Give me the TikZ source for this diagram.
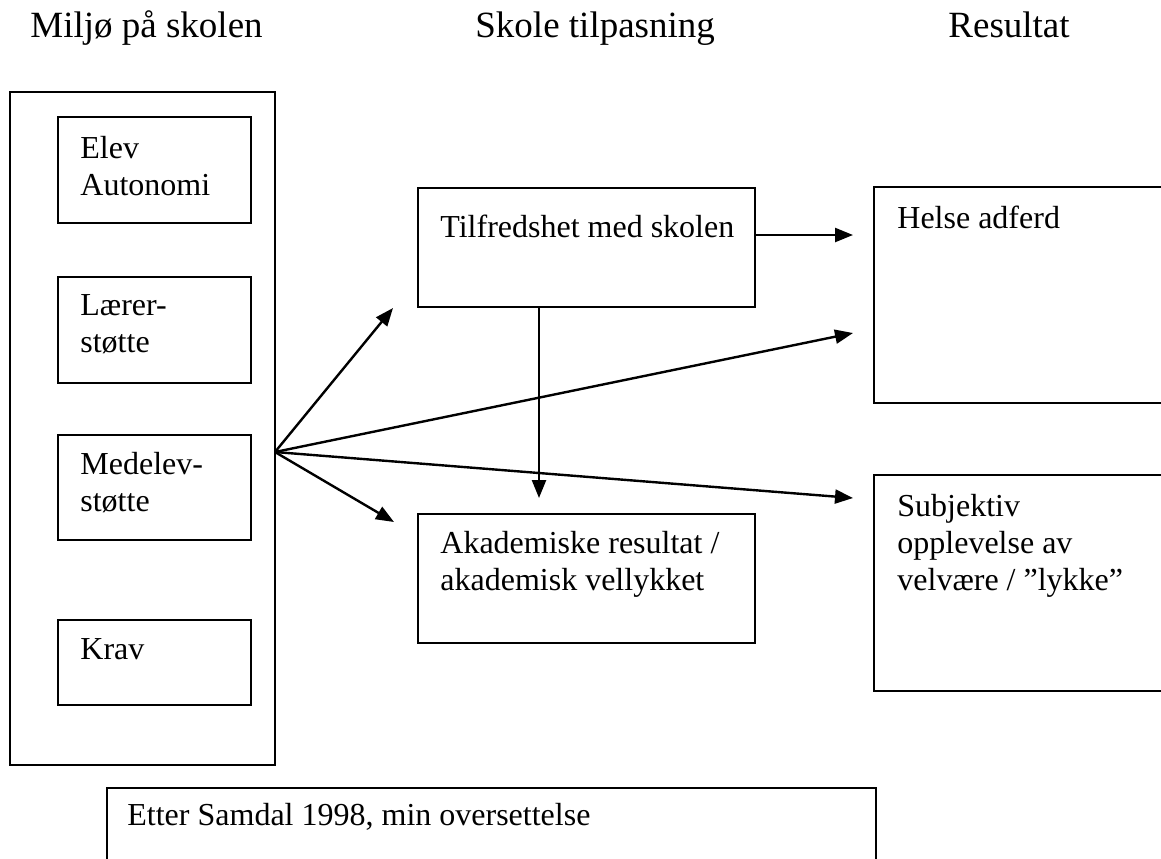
\documentclass[tikz,border=0pt]{standalone}
\usepackage{fontspec}
\setmainfont{Liberation Serif}
\usetikzlibrary{arrows.meta,fit}
\newcommand\mlines[1]{\begin{tabular}[t]{@{}l@{}}#1\end{tabular}}
\begin{document}
\begin{tikzpicture}[x=0.5pt,y=-0.5pt,
  box/.style={draw,line width=1pt,inner sep=0pt},
  txt/.style={anchor=base west,inner sep=0pt,font=\fontsize{16}{18.5}\selectfont},
  head/.style={anchor=base west,inner sep=0pt,font=\fontsize{18.5}{21}\selectfont},
  arr/.style={line width=1.2pt,-{Triangle[length=9pt,width=7pt]}}]
\useasboundingbox (0,0) rectangle (1161,858);
\clip (0,0) rectangle (1161,858);
\fill[white] (0,0) rectangle (1161,858);
% headers
\node[head] (h1) at (30,37) {Miljø på skolen};
\node[head] (h2) at (475,37) {Skole tilpasning};
\node[head] (h3) at (948,37) {Resultat};
% left column
\node[box,fit={(10,92) (275,765)}] (outer) {};
\node[box,fit={(58,117) (251,223)}] (elev) {};
\node[txt] (elevt) at (80,158) {\mlines{Elev\\Autonomi}};
\node[box,fit={(58,277) (251,383)}] (laerer) {};
\node[txt] (laerert) at (80,315) {\mlines{Lærer-\\støtte}};
\node[box,fit={(58,435) (251,540)}] (medelev) {};
\node[txt] (medelevt) at (80,474) {\mlines{Medelev-\\støtte}};
\node[box,fit={(58,620) (251,705)}] (krav) {};
\node[txt] (kravt) at (80,659) {Krav};
% middle column
\node[box,fit={(418,188) (755,307)}] (tilf) {};
\node[txt] (tilft) at (440,237) {Tilfredshet med skolen};
\node[box,fit={(418,514) (755,643)}] (akad) {};
\node[txt] (akadt) at (440,553) {\mlines{Akademiske resultat /\\akademisk vellykket}};
% right column
\node[box,fit={(874,187) (1200,403)}] (helse) {};
\node[txt] (helset) at (897,228) {Helse adferd};
\node[box,fit={(874,475) (1200,691)}] (subj) {};
\node[txt] (subjt) at (897,516) {\mlines{Subjektiv\\opplevelse av\\velvære / ”lykke”}};
% bottom note
\node[box,fit={(107,788) (876,900)}] (note) {};
\node[txt] (notet) at (127,825) {Etter Samdal 1998, min oversettelse};
% connector points
\coordinate (src) at (275,452);
\coordinate (t1) at (393,308);
\coordinate (t2) at (394,522);
\coordinate (t3) at (853,333);
\coordinate (t4) at (853,498);
\coordinate (t5) at (853,235);
\coordinate (t6) at (539,498);
\draw[arr] (src) -- (t1);
\draw[arr] (src) -- (t2);
\draw[arr] (src) -- (t3);
\draw[arr] (src) -- (t4);
\draw[arr] (tilf.east |- t5) -- (t5);
\draw[arr] (tilf.south -| t6) -- (t6);
\end{tikzpicture}
\end{document}
